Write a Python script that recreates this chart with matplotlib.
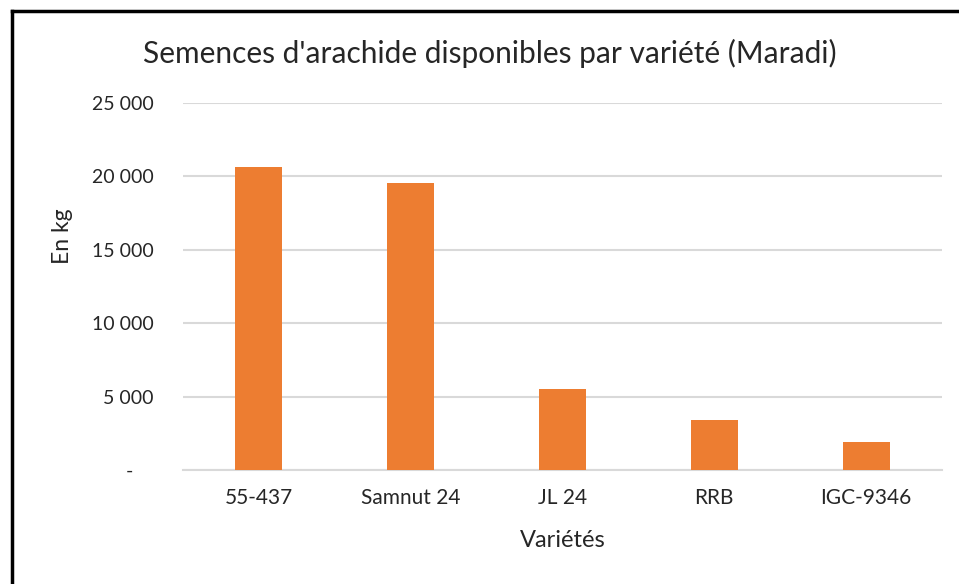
import matplotlib.pyplot as plt
from matplotlib.lines import Line2D

plt.rcParams['font.family'] = ['Lato', 'DejaVu Sans']

varietes = ['55-437', 'Samnut 24', 'JL 24', 'RRB', 'IGC-9346']
kg = [20650, 19550, 5500, 3390, 1890]
yticks = [0, 5000, 10000, 15000, 20000, 25000]
ylabels = ['-    ', '5 000', '10 000', '15 000', '20 000', '25 000']

fig = plt.figure(figsize=(9.59, 5.84), dpi=100)
ax = fig.add_axes([0.1908, 0.1952, 0.7915, 0.6284])

ax.bar(range(len(varietes)), kg, width=0.31, color='#ED7D31', zorder=3)
ax.set_xlim(-0.5, len(varietes) - 0.5)
ax.set_ylim(0, 25000)
ax.set_yticks(yticks)
ax.set_yticklabels(ylabels)
ax.set_xticks(range(len(varietes)))
ax.set_xticklabels(varietes)
ax.grid(axis='y', color='#D9D9D9', linewidth=1.5, zorder=0)
for s in ['top', 'right', 'left']:
    ax.spines[s].set_visible(False)
ax.spines['bottom'].set_color('#D9D9D9')
ax.spines['bottom'].set_linewidth(1.5)
ax.tick_params(axis='both', length=0, labelcolor='#262626')
ax.tick_params(axis='y', pad=21, labelsize=14)
ax.tick_params(axis='x', pad=13, labelsize=15)

fig.text(0.511, 0.909, "Semences d'arachide disponibles par variété (Maradi)",
         ha='center', va='center', fontsize=21.5, color='#262626')
fig.text(0.065, 0.595, 'En kg', rotation=90, ha='center', va='center',
         fontsize=16.5, color='#262626')
fig.text(0.587, 0.075, 'Variétés', ha='center', va='center',
         fontsize=17, color='#262626')

# cadre noir (gauche et haut)
fig.add_artist(Line2D([0.012, 0.012], [0, 0.982], color='black', lw=2.5,
                      transform=fig.transFigure))
fig.add_artist(Line2D([0.012, 1.0], [0.982, 0.982], color='black', lw=2.5,
                      transform=fig.transFigure))

fig.savefig('out.png', dpi=100)
